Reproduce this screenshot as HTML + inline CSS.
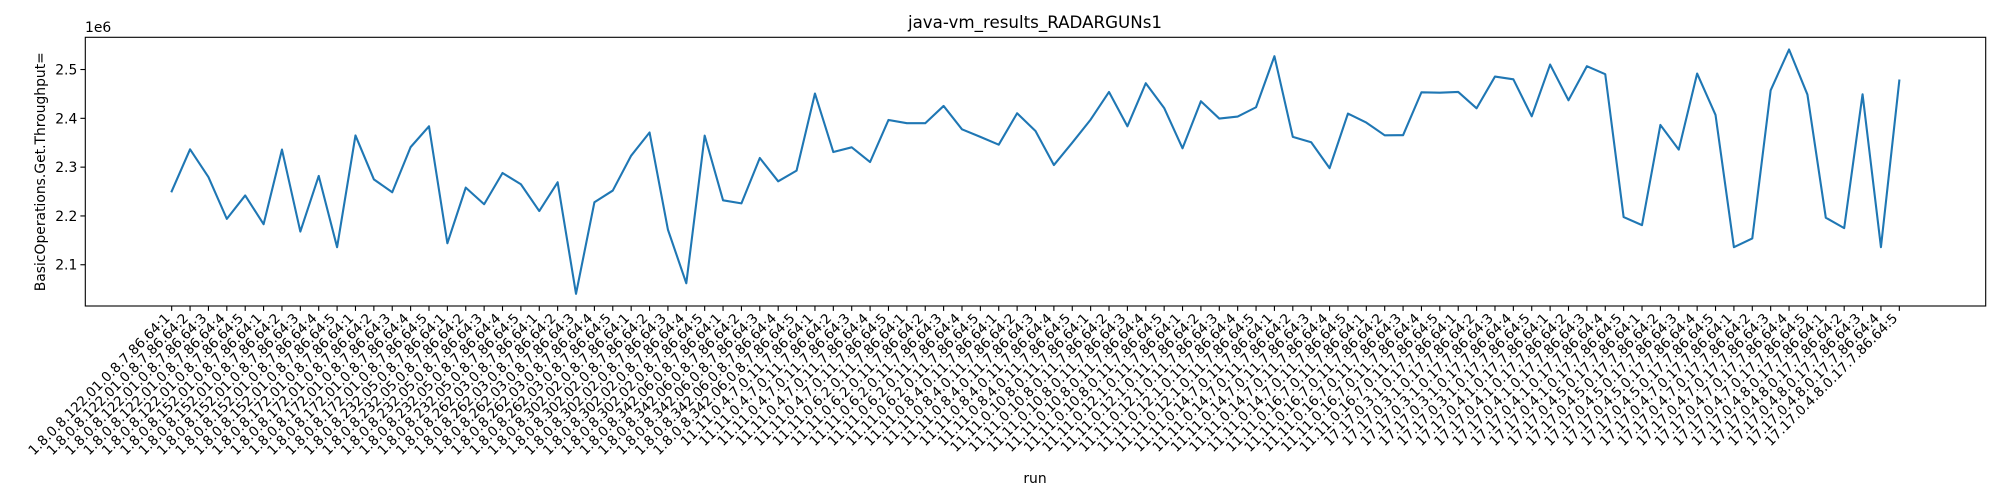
<!DOCTYPE html>
<html><head><meta charset="utf-8"><style>
html,body{margin:0;padding:0;background:#fff;}
svg{display:block;font-family:"DejaVu Sans","Liberation Sans",sans-serif;}
</style></head><body>
<svg id="chart" width="2000" height="500" viewBox="0 0 2000 500" xmlns="http://www.w3.org/2000/svg">
<rect x="0" y="0" width="2000" height="500" fill="#fff"/>
<text x="1035" y="28" font-size="16.7" text-anchor="middle">java-vm_results_RADARGUNs1</text>
<text x="85" y="32" font-size="13.9">1e6</text>
<text transform="translate(45,171.7) rotate(-90)" font-size="13.9" text-anchor="middle">BasicOperations.Get.Throughput=</text>
<text x="1035" y="483" font-size="13.9" text-anchor="middle">run</text>
<g id="yticks"></g>
<g id="xticks"></g>
<path id="series" fill="none" stroke="#1f77b4" stroke-width="2.1" stroke-linejoin="round" stroke-linecap="square"/>
<rect x="85.3" y="37.3" width="1900.4" height="268.7" fill="none" stroke="#000" stroke-width="1.1"/>
</svg>
<script>
const groups = ["1.8.0.8.122.01.0.8.7.86.64","1.8.0.8.152.01.0.8.7.86.64","1.8.0.8.172.01.0.8.7.86.64","1.8.0.8.232.05.0.8.7.86.64","1.8.0.8.262.03.0.8.7.86.64","1.8.0.8.302.02.0.8.7.86.64","1.8.0.8.342.06.0.8.7.86.64","11.11.0.4.7.0.11.7.86.64","11.11.0.6.2.0.11.7.86.64","11.11.0.8.4.0.11.7.86.64","11.11.0.10.8.0.11.7.86.64","11.11.0.12.1.0.11.7.86.64","11.11.0.14.7.0.11.7.86.64","11.11.0.16.7.0.11.7.86.64","17.17.0.3.1.0.17.7.86.64","17.17.0.4.1.0.17.7.86.64","17.17.0.4.5.0.17.7.86.64","17.17.0.4.7.0.17.7.86.64","17.17.0.4.8.0.17.7.86.64"];
const runs = [1,2,3,4,5];
const values = [2.2504,2.3365,2.2797,2.194,2.242,2.183,2.336,2.168,2.282,2.136,2.365,2.275,2.2485,2.341,2.3837,2.144,2.258,2.224,2.288,2.265,2.21,2.269,2.0405,2.228,2.252,2.3235,2.371,2.172,2.062,2.3646,2.232,2.2257,2.3187,2.271,2.2928,2.4508,2.331,2.3406,2.3105,2.3966,2.390,2.390,2.4254,2.3775,2.362,2.346,2.4104,2.374,2.3043,2.350,2.3974,2.454,2.3837,2.4719,2.4212,2.3386,2.435,2.3995,2.4036,2.4227,2.5273,2.362,2.351,2.298,2.4097,2.3913,2.3652,2.3655,2.4534,2.4525,2.454,2.4206,2.4856,2.480,2.4042,2.5102,2.437,2.5068,2.4904,2.1977,2.1812,2.3864,2.336,2.4918,2.4069,2.136,2.154,2.4575,2.541,2.4487,2.1964,2.175,2.4493,2.136,2.4774];
const yTicks = [2.1,2.2,2.3,2.4,2.5];
const categories = [];
groups.forEach(g => runs.forEach(r => categories.push(g + ":" + r)));

const NS = "http://www.w3.org/2000/svg";
const pL = 85.3, pR = 1985.7, pT = 37.3, pB = 306;
const n = categories.length;
const xmin = -0.05*(n-1), xmax = (n-1)*1.05;
const vmin = Math.min(...values), vmax = Math.max(...values);
const ymin = vmin - 0.05*(vmax-vmin), ymax = vmax + 0.05*(vmax-vmin);
function xs(i){ return pL + (i - xmin)/(xmax - xmin)*(pR-pL); }
function ys(v){ return pB - (v - ymin)/(ymax - ymin)*(pB-pT); }

const yg = document.getElementById('yticks');
yTicks.forEach(t => {
  const y = ys(t);
  const l = document.createElementNS(NS,'line');
  l.setAttribute('x1', pL-4.9); l.setAttribute('x2', pL); l.setAttribute('y1', y); l.setAttribute('y2', y);
  l.setAttribute('stroke','#000'); l.setAttribute('stroke-width','1.1');
  
  
  yg.appendChild(l);
  const tx = document.createElementNS(NS,'text');
  tx.setAttribute('x', pL-8); tx.setAttribute('y', y+5); tx.setAttribute('text-anchor','end'); tx.setAttribute('font-size','13.9');
  tx.textContent = t.toFixed(1);
  
  
  yg.appendChild(tx);
});

const xg = document.getElementById('xticks');
categories.forEach((c,i) => {
  const x = xs(i);
  const l = document.createElementNS(NS,'line');
  l.setAttribute('x1', x); l.setAttribute('x2', x); l.setAttribute('y1', pB); l.setAttribute('y2', pB+4.9);
  l.setAttribute('stroke','#000'); l.setAttribute('stroke-width','1.1');
  
  
  xg.appendChild(l);
  const tx = document.createElementNS(NS,'text');
  tx.setAttribute('transform', 'translate(' + (x-1) + ',319) rotate(-45)');
  tx.setAttribute('text-anchor','end'); tx.setAttribute('font-size','13.5');
  tx.textContent = c;
  
  
  xg.appendChild(tx);
});

let d = '';
values.forEach((v,i) => { d += (i ? 'L' : 'M') + xs(i).toFixed(2) + ',' + ys(v).toFixed(2); });
document.getElementById('series').setAttribute('d', d);
</script>
</body></html>
